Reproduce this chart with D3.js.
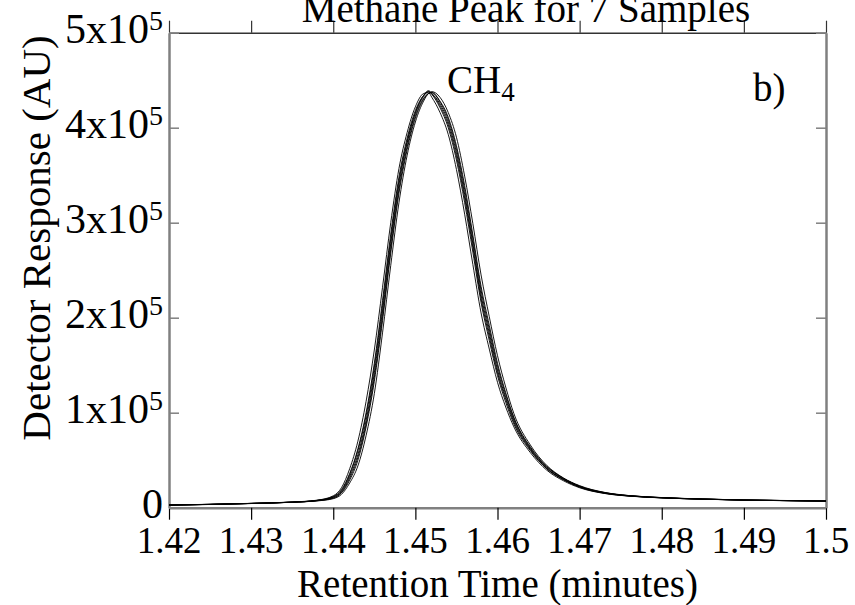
<html>
  <head>
    <script src="https://d3js.org/d3.v7.min.js"></script>
    <style>
      body { margin: 0; background: #fff; }
      text { font-family: "Liberation Serif", "Times New Roman", serif; fill: #000; }
    </style>
  </head>
  <body>
    <svg id="svg1" width="855" height="605"></svg>
    <script>
      // retention time grid (minutes) shared by all samples
      const retentionTime = [1.420, 1.425, 1.430, 1.435, 1.438, 1.440, 1.441, 1.442, 1.443, 1.444,
        1.445, 1.446, 1.447, 1.448, 1.449, 1.450, 1.451, 1.4516, 1.452, 1.453,
        1.454, 1.455, 1.456, 1.457, 1.458, 1.459, 1.460, 1.461, 1.462, 1.464,
        1.466, 1.468, 1.470, 1.473, 1.476, 1.480, 1.485, 1.490, 1.495, 1.500];

      // detector response, in units of 1x10^5 AU
      const sample1 = [0.028, 0.035, 0.045, 0.058, 0.075, 0.11, 0.17, 0.33, 0.56, 0.92, 1.42, 2.07, 2.78, 3.40, 3.84, 4.15, 4.33, 4.38, 4.36, 4.25, 4.06, 3.74, 3.30, 2.78, 2.24, 1.84, 1.45, 1.16, 0.92, 0.62, 0.42, 0.30, 0.22, 0.155, 0.125, 0.105, 0.09, 0.08, 0.075, 0.07];
      const sample2 = [0.028, 0.036, 0.046, 0.060, 0.079, 0.125, 0.21, 0.41, 0.70, 1.12, 1.66, 2.32, 3.00, 3.57, 3.95, 4.22, 4.36, 4.37, 4.32, 4.16, 3.93, 3.56, 3.09, 2.56, 2.05, 1.67, 1.32, 1.06, 0.85, 0.58, 0.395, 0.285, 0.21, 0.15, 0.122, 0.103, 0.09, 0.08, 0.074, 0.07];
      const sample3 = [0.027, 0.034, 0.044, 0.057, 0.071, 0.095, 0.14, 0.26, 0.44, 0.76, 1.20, 1.84, 2.55, 3.21, 3.71, 4.06, 4.28, 4.36, 4.38, 4.32, 4.16, 3.90, 3.49, 2.99, 2.45, 2.01, 1.60, 1.27, 0.99, 0.66, 0.445, 0.315, 0.232, 0.162, 0.128, 0.107, 0.092, 0.081, 0.076, 0.07];
      const sample4 = [0.029, 0.035, 0.045, 0.059, 0.076, 0.115, 0.18, 0.35, 0.60, 0.97, 1.48, 2.13, 2.83, 3.44, 3.86, 4.16, 4.34, 4.39, 4.36, 4.23, 4.03, 3.70, 3.26, 2.74, 2.20, 1.80, 1.42, 1.14, 0.90, 0.61, 0.41, 0.30, 0.22, 0.155, 0.124, 0.104, 0.09, 0.08, 0.075, 0.07];
      const sample5 = [0.028, 0.035, 0.045, 0.058, 0.074, 0.105, 0.16, 0.31, 0.53, 0.88, 1.37, 2.01, 2.72, 3.35, 3.80, 4.12, 4.31, 4.36, 4.37, 4.27, 4.09, 3.78, 3.35, 2.83, 2.29, 1.88, 1.49, 1.19, 0.94, 0.63, 0.43, 0.31, 0.225, 0.158, 0.126, 0.106, 0.091, 0.081, 0.075, 0.07];
      const sample6 = [0.027, 0.034, 0.044, 0.058, 0.077, 0.118, 0.19, 0.36, 0.62, 1.00, 1.52, 2.18, 2.88, 3.48, 3.89, 4.18, 4.34, 4.38, 4.35, 4.21, 4.00, 3.66, 3.21, 2.69, 2.16, 1.76, 1.39, 1.11, 0.88, 0.60, 0.41, 0.295, 0.215, 0.152, 0.123, 0.104, 0.089, 0.08, 0.074, 0.069];
      const sample7 = [0.028, 0.035, 0.045, 0.058, 0.073, 0.10, 0.155, 0.29, 0.50, 0.85, 1.33, 1.97, 2.68, 3.31, 3.77, 4.10, 4.30, 4.36, 4.37, 4.28, 4.11, 3.81, 3.39, 2.87, 2.33, 1.92, 1.52, 1.21, 0.95, 0.64, 0.435, 0.31, 0.228, 0.16, 0.127, 0.106, 0.091, 0.081, 0.075, 0.07];

      const samples = [sample1, sample2, sample3, sample4, sample5, sample6, sample7];

      const xTicks = [1.42, 1.43, 1.44, 1.45, 1.46, 1.47, 1.48, 1.49, 1.5];
      const xTickLabels = ["1.42", "1.43", "1.44", "1.45", "1.46", "1.47", "1.48", "1.49", "1.5"];
      const yTicks = [0, 1, 2, 3, 4, 5];
      const yTickLabels = ["0", "1x10", "2x10", "3x10", "4x10", "5x10"];
      const yTickExp = ["", "5", "5", "5", "5", "5"];

      const svg = d3.select("svg#svg1");
      const plotLeft = 169, plotRight = 826, plotTop = 32.7, plotBottom = 507.7;
      const axisGray = "#808080";

      const x = d3.scaleLinear().domain([1.42, 1.5]).range([plotLeft, plotRight]);
      const y = d3.scaleLinear().domain([0, 5]).range([plotBottom, plotTop]);

      // bottom axis, ticks pointing out
      const bottomAxis = svg.append("g")
        .attr("transform", `translate(0,${plotBottom})`)
        .call(d3.axisBottom(x).tickValues(xTicks).tickSize(12).tickSizeOuter(0).tickFormat(""));
      bottomAxis.select(".domain").attr("stroke", axisGray).attr("stroke-width", 2.5);
      bottomAxis.selectAll(".tick line").attr("stroke", "#000").attr("stroke-width", 1.2);

      // top axis, ticks pointing out, no labels
      const topAxis = svg.append("g")
        .attr("transform", `translate(0,${plotTop})`)
        .call(d3.axisTop(x).tickValues(xTicks).tickSize(12).tickSizeOuter(0).tickFormat(""));
      topAxis.select(".domain").attr("stroke", "#333").attr("stroke-width", 1.5);
      topAxis.selectAll(".tick line").attr("stroke", "#333").attr("stroke-width", 1.2);

      // left and right axes, ticks pointing in
      const leftAxis = svg.append("g")
        .attr("transform", `translate(${plotLeft},0)`)
        .call(d3.axisLeft(y).tickValues(yTicks).tickSize(-10).tickSizeOuter(0).tickFormat(""));
      const rightAxis = svg.append("g")
        .attr("transform", `translate(${plotRight},0)`)
        .call(d3.axisRight(y).tickValues(yTicks).tickSize(-10).tickSizeOuter(0).tickFormat(""));
      [leftAxis, rightAxis].forEach((a) => {
        a.select(".domain").attr("stroke", axisGray).attr("stroke-width", 2.5);
        a.selectAll(".tick line").attr("stroke", axisGray).attr("stroke-width", 1.5);
      });

      // x tick labels
      svg.append("g").selectAll("text")
        .data(xTicks)
        .join("text")
        .attr("x", (d) => x(d))
        .attr("y", 553)
        .attr("text-anchor", "middle")
        .attr("font-size", 37)
        .text((d, i) => xTickLabels[i]);

      // y tick labels with superscript exponent
      const yLab = svg.append("g").selectAll("text")
        .data(yTicks)
        .join("text")
        .attr("x", 163)
        .attr("y", (d) => y(d) + 10)
        .attr("text-anchor", "end")
        .attr("font-size", 42);
      yLab.append("tspan").text((d, i) => yTickLabels[i]);
      yLab.append("tspan")
        .attr("font-size", 28)
        .attr("dy", -13)
        .text((d, i) => yTickExp[i]);

      // the 7 chromatograms
      const lineGen = d3.line()
        .x((v, i) => x(retentionTime[i]))
        .y((v) => y(v))
        .curve(d3.curveMonotoneX);

      svg.append("g").selectAll("path")
        .data(samples)
        .join("path")
        .attr("fill", "none")
        .attr("stroke", "#000")
        .attr("stroke-width", 0.9)
        .attr("d", (s) => lineGen(s));

      // titles and annotations
      svg.append("text")
        .attr("x", 526).attr("y", 22)
        .attr("text-anchor", "middle")
        .attr("font-size", 39)
        .text("Methane Peak for 7 Samples");

      svg.append("text")
        .attr("x", (plotLeft + plotRight) / 2).attr("y", 597)
        .attr("text-anchor", "middle")
        .attr("font-size", 39)
        .text("Retention Time (minutes)");

      svg.append("text")
        .attr("transform", "translate(50,238) rotate(-90)")
        .attr("text-anchor", "middle")
        .attr("font-size", 41)
        .text("Detector Response (AU)");

      const ch4 = svg.append("text")
        .attr("x", 447).attr("y", 93)
        .attr("font-size", 39);
      ch4.append("tspan").text("CH");
      ch4.append("tspan").attr("font-size", 27).attr("dy", 8).text("4");

      svg.append("text")
        .attr("x", 753).attr("y", 101)
        .attr("font-size", 39)
        .text("b)");
    </script>
  </body>
</html>
